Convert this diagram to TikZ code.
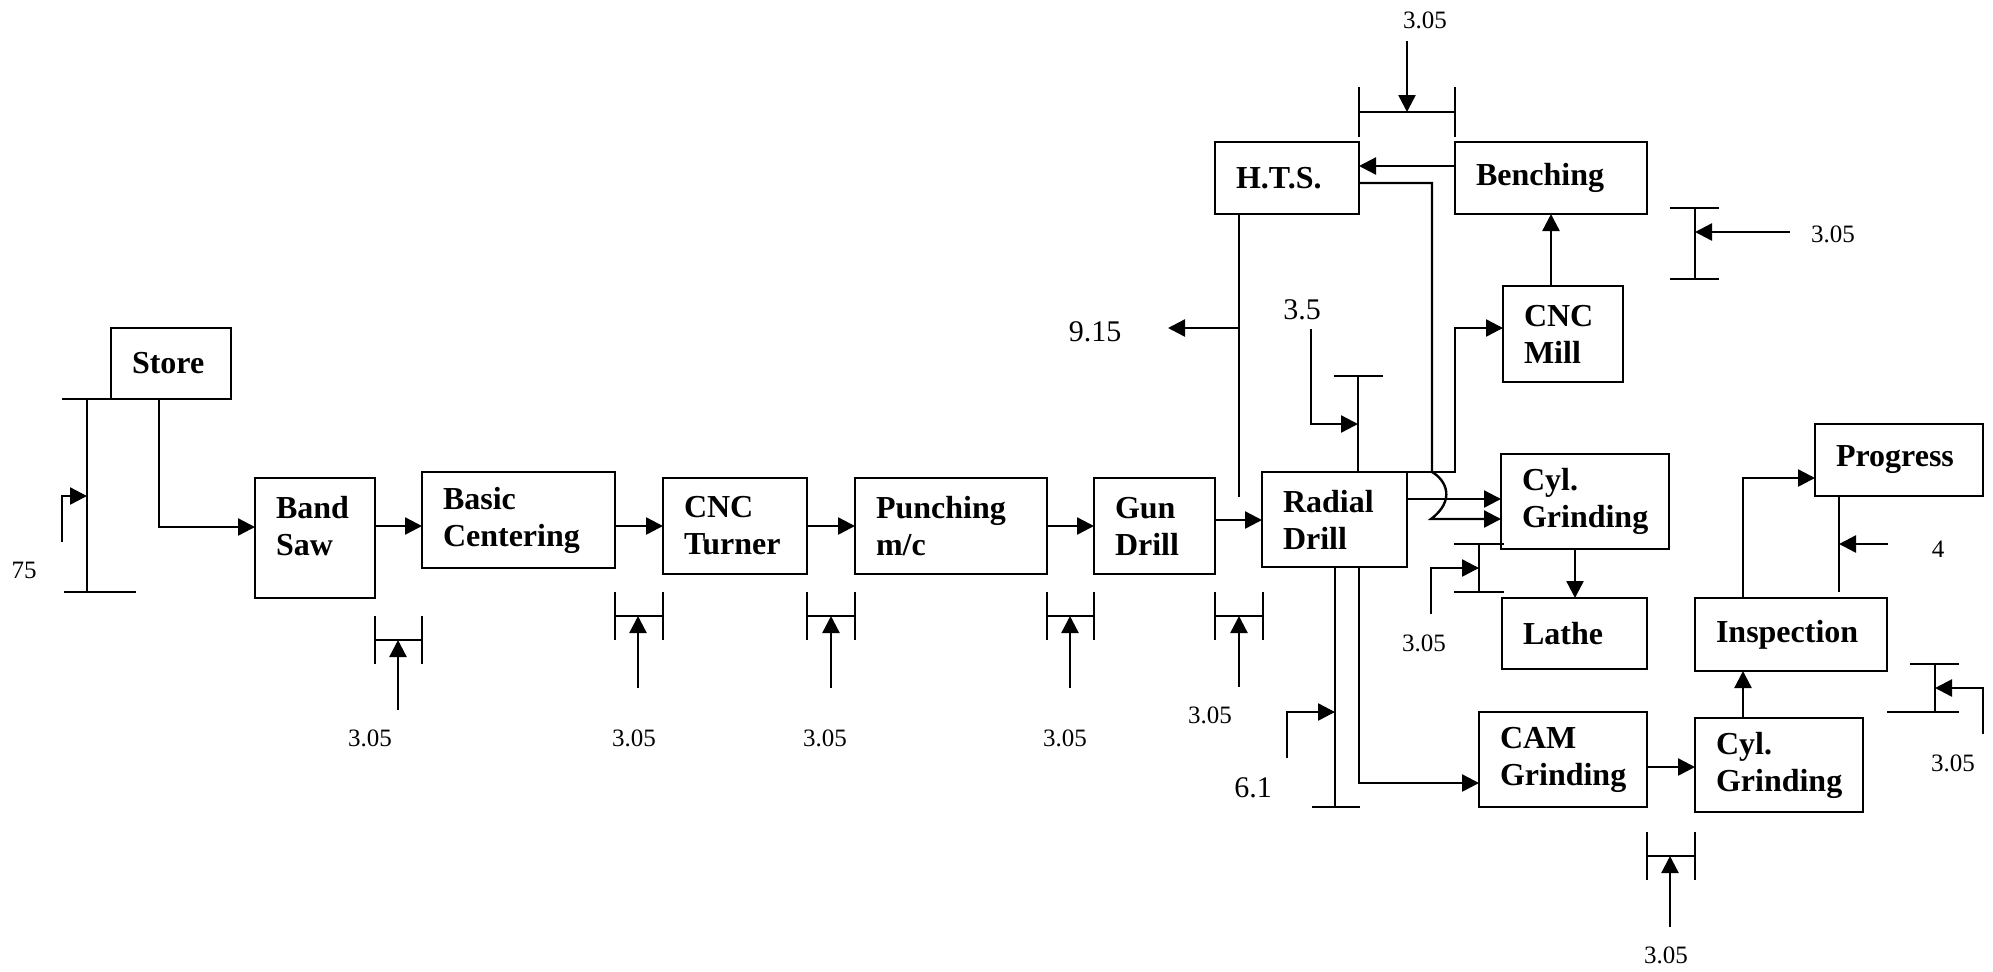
\documentclass[tikz,border=0pt]{standalone}
\usepackage{fontspec}
\setmainfont{Liberation Serif}
\usetikzlibrary{arrows.meta}
\tikzset{
    box/.style={
        draw, rectangle, align=left, anchor=north west,
        inner xsep=10.5pt, inner ysep=0pt, outer sep=0pt,
        font=\bfseries\fontsize{16}{18.5}\selectfont
    },
    mm/.style={
        -{Triangle[length=8.5pt, width=8.5pt]}
    },
    num/.style={
        inner sep=0pt, font=\fontsize{12.5}{14}\selectfont
    },
    bignum/.style={
        inner sep=0pt, font=\fontsize{15}{17}\selectfont
    }
}

\begin{document}
\begin{tikzpicture}[x=0.5pt, y=-0.5pt, line width=1.2pt]
        \useasboundingbox (0,0) rectangle (1993,971);

        % process boxes
        \node[box, text width=39pt, minimum height=35.5pt] (store) at (111,328) {Store};
        \node[box, text width=39pt, minimum height=60pt, text depth=30.8pt] (bandsaw) at (255,478) {Band\\Saw};
        \node[box, text width=75.5pt, minimum height=48pt] (centering) at (422,472) {Basic\\Centering};
        \node[box, text width=51pt, minimum height=48pt] (turner) at (663,478) {CNC\\Turner};
        \node[box, text width=75pt, minimum height=48pt] (punching) at (855,478) {Punching\\m/c};
        \node[box, text width=39.5pt, minimum height=48pt] (gundrill) at (1094,478) {Gun\\Drill};
        \node[box, text width=51.5pt, minimum height=47.5pt] (radial) at (1262,472) {Radial\\Drill};
        \node[box, text width=51pt, minimum height=36pt] (hts) at (1215,142) {H.T.S.};
        \node[box, text width=75pt, minimum height=36pt] (benching) at (1455,142) {Benching};
        \node[box, text width=39pt, minimum height=48pt] (cncmill) at (1503,286) {CNC\\Mill};
        \node[box, text width=63pt, minimum height=47.5pt] (cylgrind) at (1501,454) {Cyl.\\Grinding};
        \node[box, text width=51.5pt, minimum height=35.5pt] (lathe) at (1502,598) {Lathe};
        \node[box, text width=63pt, minimum height=47.5pt] (camgrind) at (1479,712) {CAM\\Grinding};
        \node[box, text width=63pt, minimum height=47pt] (cylgrindb) at (1695,718) {Cyl.\\Grinding};
        \node[box, text width=75pt, minimum height=36.5pt] (inspection) at (1695,598) {Inspection};
        \node[box, text width=63pt, minimum height=36pt] (progress) at (1815,424) {Progress};

        % value labels
        \node[num] (v75) at (24,570) {75};
        \node[num] (vsaw) at (370,738) {3.05};
        \node[num] (vcent) at (634,738) {3.05};
        \node[num] (vturn) at (825,738) {3.05};
        \node[num] (vpunch) at (1065,738) {3.05};
        \node[num] (vgun) at (1210,715) {3.05};
        \node[num] (vbench) at (1425,20) {3.05};
        \node[num] (vmill) at (1833,234) {3.05};
        \node[num] (vlathe) at (1424,643) {3.05};
        \node[num] (vinsp) at (1953,763) {3.05};
        \node[num] (vcam) at (1666,955) {3.05};
        \node[num] (vprog) at (1938,549) {4};
        \node[bignum] (vhts) at (1095,332) {9.15};
        \node[bignum] (vtop) at (1302,310) {3.5};
        \node[bignum] (vbot) at (1253,788) {6.1};

        % free ends of the value arrows
        \coordinate (t75) at (62,542);
        \coordinate (tsaw) at (398,710);
        \coordinate (tcent) at (638,688);
        \coordinate (tturn) at (831,688);
        \coordinate (tpunch) at (1070,688);
        \coordinate (tgun) at (1239,687);
        \coordinate (tbench) at (1407,41);
        \coordinate (tmill) at (1790,232);
        \coordinate (tlathe) at (1431,614);
        \coordinate (tinsp) at (1983,734);
        \coordinate (tcam) at (1670,927);
        \coordinate (tprog) at (1888,544);
        \coordinate (thts) at (1168,328);
        \coordinate (ttop) at (1311,329);
        \coordinate (tbot) at (1287,758);

        % flow
        \draw[mm] (store.south -| 159,0) |- (bandsaw.west |- 0,527);
        \draw[mm] (bandsaw.east |- 0,526) -- (centering.west |- 0,526);
        \draw[mm] (centering.east |- 0,526) -- (turner.west |- 0,526);
        \draw[mm] (turner.east |- 0,526) -- (punching.west |- 0,526);
        \draw[mm] (punching.east |- 0,526) -- (gundrill.west |- 0,526);
        \draw[mm] (gundrill.east |- 0,520) -- (radial.west |- 0,520);
        \draw[mm] (radial.east |- 0,499) -- (cylgrind.west |- 0,499);
        \draw[mm] (hts.east |- 0,183) -| (1432,472) .. controls (1446,480) and (1456,500) .. (1431,519) -- (cylgrind.west |- 0,519);
        \draw[mm] (benching.west |- 0,166) -- (hts.east |- 0,166);
        \draw[mm] (cncmill.north -| 1551,0) -- (benching.south -| 1551,0);
        \draw[mm] (radial.north east) -| (1455,328) -- (cncmill.west |- 0,328);
        \draw[mm] (cylgrind.south -| 1575,0) -- (lathe.north -| 1575,0);
        \draw[mm] (radial.south -| 1359,0) |- (camgrind.west |- 0,783);
        \draw[mm] (camgrind.east |- 0,767) -- (cylgrindb.west |- 0,767);
        \draw[mm] (cylgrindb.north -| 1743,0) -- (inspection.south -| 1743,0);
        \draw[mm] (inspection.north -| 1743,0) |- (progress.west |- 0,478);

        % store bar
        \draw[-] (62,399) -- (store.south west);
        \draw[-] (87,399) -- (87,592);
        \draw[-] (64,592) -- (136,592);
        \draw[mm] (t75) |- (87,496);

        % bars under the line
        \draw[-] (375,616) -- (375,664);
        \draw[-] (422,616) -- (422,664);
        \draw[-] (375,640) -- (422,640);
        \draw[mm] (tsaw) -- (tsaw |- 0,640);

        \draw[-] (615,592) -- (615,640);
        \draw[-] (663,592) -- (663,640);
        \draw[-] (615,616) -- (663,616);
        \draw[mm] (tcent) -- (tcent |- 0,616);

        \draw[-] (807,592) -- (807,640);
        \draw[-] (855,592) -- (855,640);
        \draw[-] (807,616) -- (855,616);
        \draw[mm] (tturn) -- (tturn |- 0,616);

        \draw[-] (1047,592) -- (1047,640);
        \draw[-] (1094,592) -- (1094,640);
        \draw[-] (1047,616) -- (1094,616);
        \draw[mm] (tpunch) -- (tpunch |- 0,616);

        \draw[-] (1215,592) -- (1215,640);
        \draw[-] (1263,592) -- (1263,640);
        \draw[-] (1215,616) -- (1263,616);
        \draw[mm] (tgun) -- (tgun |- 0,616);

        % H.T.S. leg
        \draw[-] (hts.south -| 1239,0) -- (1239,497);
        \draw[mm] (thts -| 1239,0) -- (thts);

        % radial drill legs
        \draw[-] (radial.north -| 1358,0) -- (1358,376);
        \draw[-] (1334,376) -- (1383,376);
        \draw[mm] (ttop) |- (1358,424);

        \draw[-] (radial.south -| 1335,0) -- (1335,807);
        \draw[-] (1312,807) -- (1360,807);
        \draw[mm] (tbot) |- (1335,712);

        % bars on the right
        \draw[-] (1359,87) -- (1359,137);
        \draw[-] (1455,87) -- (1455,137);
        \draw[-] (1359,112) -- (1455,112);
        \draw[mm] (tbench) -- (tbench |- 0,112);

        \draw[-] (1670,208) -- (1719,208);
        \draw[-] (1670,279) -- (1719,279);
        \draw[-] (1695,208) -- (1695,279);
        \draw[mm] (tmill) -- (tmill -| 1695,0);

        \draw[-] (1454,544) -- (1504,544);
        \draw[-] (1454,592) -- (1504,592);
        \draw[-] (1479,544) -- (1479,592);
        \draw[mm] (tlathe) |- (1479,568);

        \draw[-] (progress.south -| 1839,0) -- (1839,592);
        \draw[mm] (tprog) -- (tprog -| 1839,0);

        \draw[-] (1910,664) -- (1959,664);
        \draw[-] (1887,712) -- (1959,712);
        \draw[-] (1935,664) -- (1935,712);
        \draw[mm] (tinsp) |- (1935,688);

        \draw[-] (1647,832) -- (1647,880);
        \draw[-] (1695,832) -- (1695,880);
        \draw[-] (1647,856) -- (1695,856);
        \draw[mm] (tcam) -- (tcam |- 0,856);
    \end{tikzpicture}
\end{document}
